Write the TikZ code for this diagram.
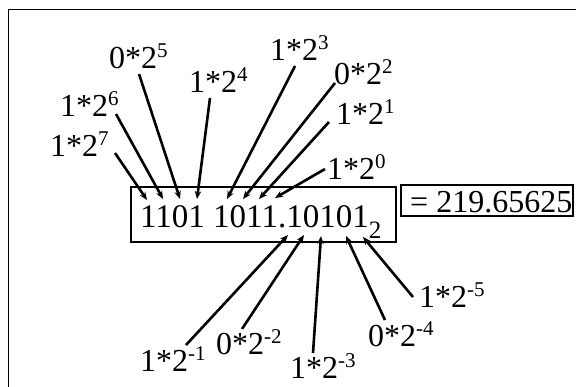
\documentclass[tikz,border=0pt]{standalone}
\usepackage{fontspec}
\setmainfont{Liberation Serif}
\usetikzlibrary{arrows.meta}
\newcommand\lbl[2]{\fontsize{32}{32}\selectfont #1*2\raisebox{11pt}{\fontsize{21}{21}\selectfont #2}}
\tikzset{
  lab/.style={anchor=base west, inner sep=0pt},
  arr/.style={line width=2.6pt, -{Stealth[length=8pt,width=6.5pt]}},
  frm/.style={draw, line width=1.1pt, inner sep=0pt}
}
\begin{document}
\begin{tikzpicture}[x=1pt,y=-1pt]
\useasboundingbox (0,0) rectangle (576,387);
\draw[line width=1.8pt] (8.5,420) -- (8.5,9.5) -- (620,9.5);
% boxes
\node[frm, minimum width=265pt, minimum height=55pt] (box) at (263.5,214.5) {};
\node[frm, minimum width=172pt, minimum height=31pt] (res) at (487,200.5) {};
\node[lab] (bin) at (140,228) {\fontsize{33}{33}\selectfont 1101 1011.10101\raisebox{-11pt}{\fontsize{25}{25}\selectfont 2}};
\node[lab] (val) at (410,213) {\fontsize{32}{32}\selectfont = 219.65625};
% labels
\node[lab] (l7) at (50,157) {\lbl{1}{7}};
\node[lab] (l6) at (60,117) {\lbl{1}{6}};
\node[lab] (l5) at (109,69) {\lbl{0}{5}};
\node[lab] (l4) at (189,93) {\lbl{1}{4}};
\node[lab] (l3) at (270,61) {\lbl{1}{3}};
\node[lab] (l2) at (334,85) {\lbl{0}{2}};
\node[lab] (l1) at (336,125) {\lbl{1}{1}};
\node[lab] (l0) at (327,180) {\lbl{1}{0}};
\node[lab] (m1) at (140,372) {\lbl{1}{-1}};
\node[lab] (m2) at (216,355) {\lbl{0}{-2}};
\node[lab] (m3) at (290,379) {\lbl{1}{-3}};
\node[lab] (m4) at (368,347) {\lbl{0}{-4}};
\node[lab] (m5) at (419,308) {\lbl{1}{-5}};
% arrow ends
\coordinate (s7) at (115,153); \coordinate (e7) at (147,200);
\coordinate (s6) at (116,114); \coordinate (e6) at (163,199);
\coordinate (s5) at (139,74);  \coordinate (e5) at (180,199);
\coordinate (s4) at (210,98);  \coordinate (e4) at (197,199);
\coordinate (s3) at (295,66);  \coordinate (e3) at (227,199);
\coordinate (s2) at (335,83);  \coordinate (e2) at (243,199);
\coordinate (s1) at (329,122); \coordinate (e1) at (259,199);
\coordinate (s0) at (325,169); \coordinate (e0) at (275,198);
\coordinate (t1) at (186,345); \coordinate (f1) at (288,235);
\coordinate (t2) at (242,329); \coordinate (f2) at (304,235);
\coordinate (t3) at (313,353); \coordinate (f3) at (321,236);
\coordinate (t4) at (385,320); \coordinate (f4) at (346,236);
\coordinate (t5) at (413,297); \coordinate (f5) at (363,237);
\foreach \i in {0,...,7} {\draw[arr] (s\i) -- (e\i);}
\foreach \i in {1,...,5} {\draw[arr] (t\i) -- (f\i);}
\end{tikzpicture}
\end{document}
